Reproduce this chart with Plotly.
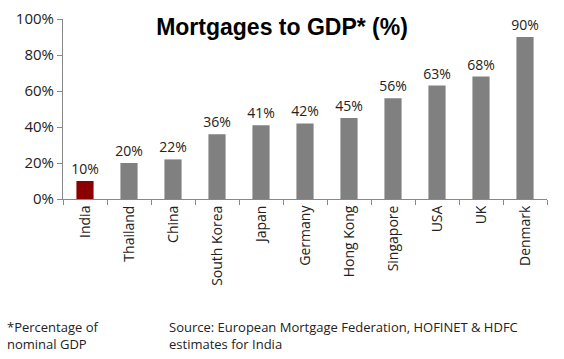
import plotly.graph_objects as go

countries = ["India", "Thailand", "China", "South Korea", "Japan", "Germany",
             "Hong Kong", "Singapore", "USA", "UK", "Denmark"]
values = [10, 20, 22, 36, 41, 42, 45, 56, 63, 68, 90]
bar_colors = ["#8B0000"] + ["#808080"] * 10
y_ticks = [0, 20, 40, 60, 80, 100]
y_tick_labels = [f"{t}%" for t in y_ticks]

font_main = "Open Sans, DejaVu Sans, sans-serif"

fig = go.Figure()
fig.add_trace(go.Bar(
    x=countries, y=values,
    marker=dict(color=bar_colors, line=dict(width=0)),
    text=[f"{v}%" for v in values],
    textposition="outside",
    constraintext="none",
    textfont=dict(family=font_main, size=14, color="#222222"),
    cliponaxis=False,
))

L, R, T, B = 63, 17, 19, 160
fig.update_layout(
    width=564, height=359,
    margin=dict(l=L, r=R, t=T, b=B, autoexpand=False),
    paper_bgcolor="white", plot_bgcolor="white",
    bargap=0.61,
    showlegend=False,
    uniformtext=dict(mode=False),
    title=dict(text="<b>Mortgages to GDP* (%)</b>", x=0.5, xanchor="center",
               xref="container", yref="container",
               y=1 - 27 / 359, yanchor="middle", automargin=False,
               font=dict(family="Arial, Liberation Sans, sans-serif", size=23, color="black")),
    xaxis=dict(
        type="category", tickangle=-90, tickson="boundaries",
        ticks="outside", ticklen=5, tickcolor="#888888",
        showline=True, linecolor="#888888", linewidth=1,
        tickfont=dict(family=font_main, size=14, color="#222222"),
        showgrid=False, automargin=False,
    ),
    yaxis=dict(
        range=[0, 100], tickmode="array", tickvals=y_ticks, ticktext=y_tick_labels,
        ticks="outside", ticklen=5, tickcolor="#888888",
        showline=True, linecolor="#888888", linewidth=1,
        tickfont=dict(family=font_main, size=15, color="#222222"),
        showgrid=False, zeroline=False, automargin=False,
    ),
)

plot_w = 564 - L - R
plot_h = 359 - T - B

def px_to_paper(px, py):
    return (px - L) / plot_w, (359 - B - py) / plot_h

for txt, px, py in [
    ("*Percentage of<br>nominal GDP", 5, 316),
    ("Source: European Mortgage Federation, HOFINET & HDFC<br>estimates for India", 167, 316),
]:
    xx, yy = px_to_paper(px, py)
    fig.add_annotation(text=txt, x=xx, y=yy, xref="paper", yref="paper",
                       showarrow=False, align="left", xanchor="left", yanchor="top",
                       font=dict(family=font_main, size=13, color="#222222"))

fig.write_html("out.html", config={"displayModeBar": False},
               post_script="document.body.style.margin='0';document.body.style.overflow='hidden';")
